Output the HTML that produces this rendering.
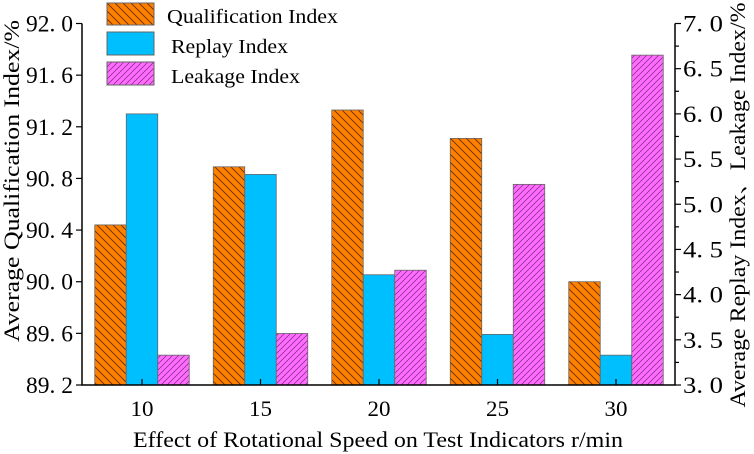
<!DOCTYPE html>
<html><head><meta charset="utf-8"><style>
html,body{margin:0;padding:0;background:#fff;}
svg{display:block;font-family:"Liberation Serif","Noto Serif CJK SC",serif;}
</style></head><body>
<svg id="chart" width="754" height="454" viewBox="0 0 754 454">
<defs>
<pattern id="hatchBack" patternUnits="userSpaceOnUse" width="8" height="8">
<rect width="8" height="8" fill="#ff8000"/><path d="M-2,-2 L10,10 M-2,6 L2,10 M6,-2 L10,2" stroke="#5a2c00" stroke-width="0.8"/></pattern>
<pattern id="hatchFwd" patternUnits="userSpaceOnUse" width="6" height="6">
<rect width="6" height="6" fill="#ff6cff"/><path d="M-1,7 L7,-1 M-1,1 L1,-1 M5,7 L7,5" stroke="#7a2a7a" stroke-width="0.7"/></pattern>
</defs>
<g id="bars"></g>
<g id="axes"></g>
<g id="legend">
<rect x="107" y="3" width="47" height="22" fill="url(#hatchBack)" stroke="#666"/>
<text x="167" y="23" font-size="20" textLength="171" lengthAdjust="spacingAndGlyphs">Qualification Index</text>
<rect x="107" y="32" width="47" height="23" fill="#00bfff" stroke="#666"/>
<text x="171" y="53" font-size="20" textLength="117" lengthAdjust="spacingAndGlyphs">Replay Index</text>
<rect x="107" y="62" width="47" height="23" fill="url(#hatchFwd)" stroke="#666"/>
<text x="171" y="83" font-size="20" textLength="129" lengthAdjust="spacingAndGlyphs">Leakage Index</text>
</g>
<text x="378" y="447" font-size="22" text-anchor="middle" textLength="490" lengthAdjust="spacingAndGlyphs">Effect of Rotational Speed on Test Indicators r/min</text>
<text transform="translate(19,181) rotate(-90)" font-size="22" text-anchor="middle" textLength="322" lengthAdjust="spacingAndGlyphs">Average Qualification Index/%</text>
<text transform="translate(745,205) rotate(-90)" font-size="22" text-anchor="middle" textLength="405" lengthAdjust="spacingAndGlyphs">Average Replay Index、Leakage Index/%</text>
</svg>
<script>
const categories=["10","15","20","25","30"];
const qualification=[90.44,90.89,91.33,91.11,90.00];
const replay=[6.00,5.33,4.22,3.56,3.33];
const leakage=[3.33,3.57,4.27,5.22,6.65];
const leftTicks=[89.2,89.6,90.0,90.4,90.8,91.2,91.6,92.0];
const leftTickLabels=["89. 2","89. 6","90. 0","90. 4","90. 8","91. 2","91. 6","92. 0"];
const rightTicks=[3.0,3.5,4.0,4.5,5.0,5.5,6.0,6.5,7.0];
const rightTickLabels=["3. 0","3. 5","4. 0","4. 5","5. 0","5. 5","6. 0","6. 5","7. 0"];
const NS="http://www.w3.org/2000/svg";
const X0=82,X1=675,Y0=385,Y1=23.5;
const yL=v=>Y0-(v-89.2)/(92.0-89.2)*(Y0-Y1);
const yR=v=>Y0-(v-3)/(7-3)*(Y0-Y1);
const xC=i=>142+i*118.5;
const BW=31.5;
function mk(tag,attrs,parent){const e=document.createElementNS(NS,tag);for(const k in attrs)e.setAttribute(k,attrs[k]);parent.appendChild(e);return e;}
const bars=document.getElementById('bars'),axes=document.getElementById('axes');
categories.forEach((c,i)=>{
 const cx=xC(i);
 let r=mk('rect',{x:cx-1.5*BW,y:yL(qualification[i]),width:BW,height:Y0-yL(qualification[i]),fill:'url(#hatchBack)',stroke:'#666','stroke-width':0.8},bars);
 
 
 r=mk('rect',{x:cx-0.5*BW,y:yR(replay[i]),width:BW,height:Y0-yR(replay[i]),fill:'#00bfff',stroke:'#666','stroke-width':0.8},bars);
 
 
 r=mk('rect',{x:cx+0.5*BW,y:yR(leakage[i]),width:BW,height:Y0-yR(leakage[i]),fill:'url(#hatchFwd)',stroke:'#666','stroke-width':0.8},bars);
 
 
 mk('line',{x1:cx,y1:Y0,x2:cx,y2:Y0-6,stroke:'#000','stroke-width':1.2},axes);
 const t=mk('text',{x:cx,y:Y0+31,'font-size':22,'text-anchor':'middle',textLength:23,lengthAdjust:'spacingAndGlyphs'},axes);t.textContent=c;
 
 
});
let a=mk('path',{d:`M${X0},${Y1} V${Y0} H${X1} V${Y1}`,fill:'none',stroke:'#000','stroke-width':1.5},axes);


leftTicks.forEach((v,i)=>{
 const y=yL(v);mk('line',{x1:X0-6,y1:y,x2:X0,y2:y,stroke:'#000','stroke-width':1.2},axes);
 const t=mk('text',{x:X0-9,y:y+8,'font-size':23,'text-anchor':'end',textLength:47,lengthAdjust:'spacingAndGlyphs'},axes);t.textContent=leftTickLabels[i];
 
 
});
for(let v=3;v<=7.001;v+=0.25){const y=yR(v);const maj=Math.abs(v*2-Math.round(v*2))<1e-6;
 mk('line',{x1:X1,y1:y,x2:X1+(maj?6:4),y2:y,stroke:'#000','stroke-width':1.2},axes);}
rightTicks.forEach((v,i)=>{
 const y=yR(v);
 const t=mk('text',{x:X1+8,y:y+8,'font-size':23,textLength:40,lengthAdjust:'spacingAndGlyphs'},axes);t.textContent=rightTickLabels[i];
 
 
});
</script>
</body></html>
